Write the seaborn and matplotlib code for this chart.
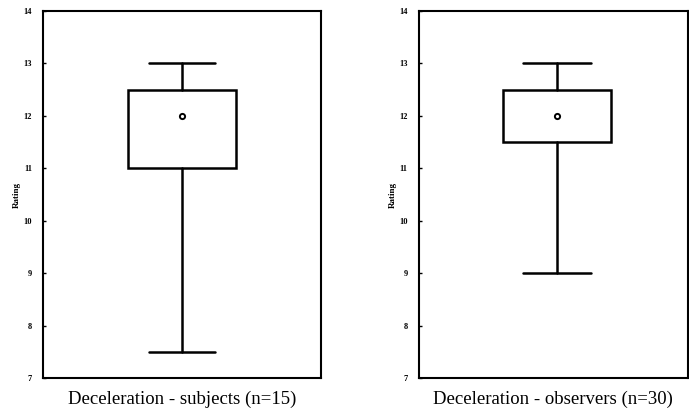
import matplotlib
matplotlib.use("Agg")
import matplotlib.pyplot as plt
import seaborn as sns
import pandas as pd

# box summaries
panel_titles = ["Deceleration - subjects (n=15)", "Deceleration - observers (n=30)"]
whisker_low = [7.5, 9.0]
box_low = [11.0, 11.5]
centre = [12.0, 12.0]
box_high = [12.5, 12.5]
whisker_high = [13.0, 13.0]
y_ticks = [7, 8, 9, 10, 11, 12, 13, 14]

sns.set_style("ticks")
plt.rcParams['font.family'] = ['Liberation Serif', 'DejaVu Serif']
plt.rcParams['text.color'] = 'black'
plt.rcParams['axes.labelcolor'] = 'black'
plt.rcParams['ytick.color'] = 'black'

fig = plt.figure(figsize=(6.89, 4.2), dpi=100)
ax_pos = [[0.0624, 0.100, 0.4035, 0.8738],
          [0.6080, 0.100, 0.3904, 0.8738]]
box_w = [0.385, 0.40]
cap_w = [0.237, 0.25]
box_x = [0.0, 0.013]

for i in range(2):
    ax = fig.add_axes(ax_pos[i])
    stats = [{
        'med': centre[i], 'q1': box_low[i], 'q3': box_high[i],
        'whislo': whisker_low[i], 'whishi': whisker_high[i], 'fliers': [],
    }]
    ax.bxp(stats, positions=[box_x[i]], widths=box_w[i], capwidths=[cap_w[i]],
           showfliers=False, patch_artist=True,
           boxprops=dict(facecolor='white', edgecolor='black', linewidth=1.8),
           whiskerprops=dict(color='black', linewidth=1.8),
           capprops=dict(color='black', linewidth=1.8),
           medianprops=dict(linewidth=0))

    # the centre point
    dot = pd.DataFrame({'x': [box_x[i]], 'y': [centre[i]]})
    sns.scatterplot(data=dot, x='x', y='y', ax=ax, marker='o', s=14,
                    facecolor='white', edgecolor='black', linewidth=1.4, zorder=5)

    ax.set_xlim(-0.5, 0.5)
    ax.set_ylim(7, 14)
    ax.set_xticks([])
    ax.set_yticks(y_ticks)
    ax.set_yticklabels([str(t) for t in y_ticks], fontsize=6, fontweight='bold')
    ax.tick_params(axis='y', direction='in', length=2, width=1, pad=8, colors='black')
    for sp in ax.spines.values():
        sp.set_linewidth(1.5)
        sp.set_color('black')
        sp.set_visible(True)
    ax.set_ylabel("Rating", fontsize=6.5, fontweight='bold', labelpad=2, color='black')
    ax.set_xlabel(panel_titles[i], fontsize=13.5, labelpad=9, color='black')

fig.savefig("out.png", dpi=100)
